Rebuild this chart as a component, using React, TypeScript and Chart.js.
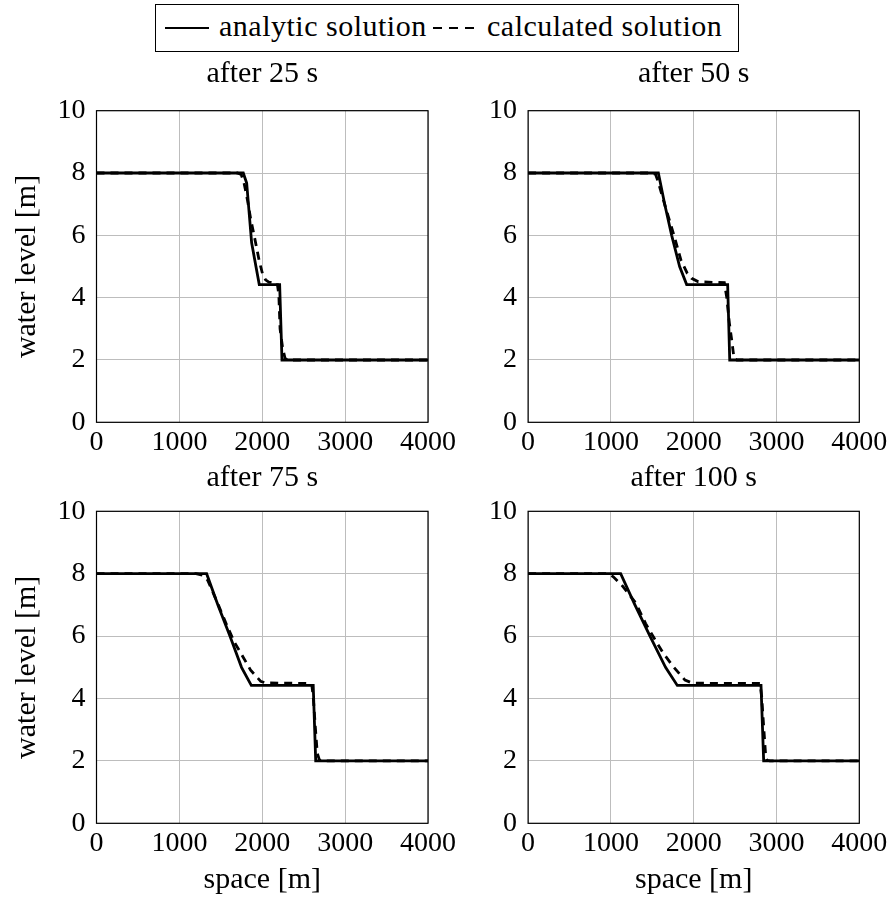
import React, { useEffect, useRef } from "react";
import { Chart, registerables } from "chart.js";

Chart.register(...registerables);

const FONT = '"Liberation Serif", "Times New Roman", serif';

// ---- data (x = space [m], y = water level [m]) ----
const titles = ["after 25 s", "after 50 s", "after 75 s", "after 100 s"];
const legendLabels = ["analytic solution", "calculated solution"];
const xTitle = "space [m]";
const yTitle = "water level [m]";
const xMin = 0, xMax = 4000, xStep = 1000;
const yMin = 0, yMax = 10, yStep = 2;

const analytic25: [number, number][] = [[0, 8], [1771, 8], [1812, 7.68], [1872, 5.76], [1924, 5], [1964, 4.42], [2210, 4.42], [2238, 2], [4000, 2]];
const calculated25: [number, number][] = [[0, 8], [1700, 8], [1745, 7.95], [1775, 7.75], [1822, 7.13], [1862, 6.5], [1902, 6], [1962, 5.2], [2002, 4.78], [2040, 4.57], [2080, 4.5], [2180, 4.47], [2200, 4.1], [2215, 3], [2245, 2.4], [2275, 2.05], [2310, 2], [4000, 2]];

const analytic50: [number, number][] = [[0, 8], [1573, 8], [1650, 7], [1734, 6], [1830, 5], [1915, 4.42], [2410, 4.42], [2435, 2], [4000, 2]];
const calculated50: [number, number][] = [[0, 8], [1500, 8], [1540, 7.95], [1573, 7.7], [1665, 6.85], [1762, 6], [1847, 5.2], [1923, 4.78], [1975, 4.62], [2056, 4.51], [2370, 4.48], [2398, 4.03], [2430, 3.2], [2459, 2.64], [2487, 2.05], [2520, 2], [4000, 2]];

const analytic75: [number, number][] = [[0, 8], [1329, 8], [1465, 7], [1610, 6], [1750, 5], [1868, 4.42], [2615, 4.42], [2645, 2], [4000, 2]];
const calculated75: [number, number][] = [[0, 8], [1200, 8], [1280, 7.95], [1340, 7.8], [1470, 7.0], [1580, 6.3], [1667, 5.79], [1755, 5.39], [1860, 4.91], [1981, 4.55], [2040, 4.5], [2596, 4.48], [2615, 4.06], [2640, 3.1], [2664, 2.24], [2690, 2.03], [2720, 2], [4000, 2]];

const analytic100: [number, number][] = [[0, 8], [1118, 8], [1290, 7], [1472, 6], [1660, 5], [1802, 4.42], [2813, 4.42], [2845, 2], [4000, 2]];
const calculated100: [number, number][] = [[0, 8], [970, 8], [1029, 7.9], [1130, 7.64], [1303, 7.05], [1420, 6.4], [1536, 5.87], [1633, 5.45], [1754, 5.02], [1895, 4.59], [1960, 4.52], [2016, 4.49], [2801, 4.48], [2821, 4.06], [2845, 3.1], [2870, 2.13], [2885, 2.02], [2920, 2], [4000, 2]];

const analyticSets = [analytic25, analytic50, analytic75, analytic100];
const calculatedSets = [calculated25, calculated50, calculated75, calculated100];

// ---- layout ----
const LINE_W = 2.8;
const DASH = [8, 6];

const framePlugin = {
  id: "frame",
  afterDatasetsDraw(chart: any) {
    const { ctx, chartArea } = chart;
    const { left, top, right, bottom } = chartArea;
    ctx.save();
    ctx.strokeStyle = "#000";
    ctx.lineWidth = 1.2;
    ctx.strokeRect(left, top, right - left, bottom - top);
    ctx.restore();
  },
};

type PanelSpec = {
  left: number; top: number; width: number; height: number;
  yWidth: number; padRight: number; areaTop: number; areaBottom: number;
  titlePadTop: number; showY: boolean; showX: boolean; idx: number;
};

const TITLE_FS = 30;
const TITLE_LH = TITLE_FS * 1.2;

function Panel(p: PanelSpec) {
  const ref = useRef<HTMLCanvasElement | null>(null);
  useEffect(() => {
    if (!ref.current) return;
    const toPts = (a: [number, number][]) => a.map(([x, y]) => ({ x, y }));
    const titlePadBottom = p.areaTop - p.titlePadTop - TITLE_LH;
    const xHeight = p.height - p.areaBottom;
    const chart = new Chart(ref.current, {
      type: "line",
      data: {
        datasets: [
          {
            label: legendLabels[0],
            data: toPts(analyticSets[p.idx]),
            borderColor: "#000",
            borderWidth: LINE_W,
            pointRadius: 0,
            tension: 0,
            fill: false,
          },
          {
            label: legendLabels[1],
            data: toPts(calculatedSets[p.idx]),
            borderColor: "#000",
            borderWidth: LINE_W,
            borderDash: DASH,
            pointRadius: 0,
            tension: 0,
            fill: false,
          },
        ],
      },
      options: {
        responsive: false,
        animation: false,
        layout: { padding: { left: 0, top: 0, right: p.padRight, bottom: 0 } },
        plugins: {
          legend: { display: false },
          tooltip: { enabled: false },
          title: {
            display: true,
            text: titles[p.idx],
            color: "#000",
            fullSize: false,
            font: { family: FONT, size: TITLE_FS, weight: "normal", lineHeight: 1.2 },
            padding: { top: p.titlePadTop, bottom: titlePadBottom },
          },
        },
        scales: {
          x: {
            type: "linear",
            min: xMin,
            max: xMax,
            afterFit: (s: any) => { s.height = xHeight; },
            ticks: {
              stepSize: xStep,
              color: "#000",
              padding: 3.4,
              maxRotation: 0,
              callback: (v: any) => String(v),
              font: { family: FONT, size: 28, lineHeight: 1.2 },
            },
            grid: { color: "#bdbdbd", lineWidth: 1, drawTicks: false },
            border: { display: false },
            title: {
              display: p.showX,
              text: xTitle,
              color: "#000",
              font: { family: FONT, size: TITLE_FS, lineHeight: 1.2 },
              padding: { top: 0, bottom: 8 },
            },
          },
          y: {
            type: "linear",
            min: yMin,
            max: yMax,
            afterFit: (s: any) => { s.width = p.yWidth; },
            ticks: {
              stepSize: yStep,
              color: "#000",
              padding: 11,
              callback: (v: any) => String(v),
              font: { family: FONT, size: 28, lineHeight: 1.2 },
            },
            grid: { color: "#bdbdbd", lineWidth: 1, drawTicks: false },
            border: { display: false },
            title: {
              display: p.showY,
              text: yTitle,
              color: "#000",
              font: { family: FONT, size: TITLE_FS, lineHeight: 1.2 },
              padding: { top: 9.5, bottom: 0 },
            },
          },
        },
      },
      plugins: [framePlugin],
    } as any);
    return () => chart.destroy();
  }, []);
  return (
    <canvas
      ref={ref}
      width={p.width}
      height={p.height}
      style={{ position: "absolute", left: p.left, top: p.top, width: p.width, height: p.height }}
    />
  );
}

const panels: PanelSpec[] = [
  { idx: 0, left: 0, top: 50, width: 470, height: 415, yWidth: 96.5, padRight: 42, areaTop: 60.7, areaBottom: 372.3, titlePadTop: 6.5, showY: true, showX: false },
  { idx: 1, left: 470, top: 50, width: 424, height: 415, yWidth: 58.1, padRight: 34.7, areaTop: 60.7, areaBottom: 372.3, titlePadTop: 6.5, showY: false, showX: false },
  { idx: 2, left: 0, top: 440, width: 470, height: 466, yWidth: 96.5, padRight: 42, areaTop: 71.3, areaBottom: 383.3, titlePadTop: 20.5, showY: true, showX: true },
  { idx: 3, left: 470, top: 440, width: 424, height: 466, yWidth: 58.1, padRight: 34.7, areaTop: 71.3, areaBottom: 383.3, titlePadTop: 20.5, showY: false, showX: true },
];

function Legend() {
  const textStyle: React.CSSProperties = {
    position: "absolute",
    top: 2.6,
    fontFamily: FONT,
    fontSize: 30,
    lineHeight: "36px",
    letterSpacing: "0.5px",
    whiteSpace: "nowrap",
    color: "#000",
  };
  const dash = (l: number) => (
    <div key={l} style={{ position: "absolute", left: l, top: 21.5, width: 9, height: 2.8, background: "#000" }} />
  );
  return (
    <div
      style={{
        position: "absolute",
        left: 155,
        top: 4,
        width: 584,
        height: 48,
        border: "1.3px solid #000",
        boxSizing: "border-box",
        background: "#fff",
      }}
    >
      <div style={{ position: "absolute", left: 9, top: 21.5, width: 44, height: 2.8, background: "#000" }} />
      <span style={{ ...textStyle, left: 63 }}>{legendLabels[0]}</span>
      {[277, 293, 309].map(dash)}
      <span style={{ ...textStyle, left: 331 }}>{legendLabels[1]}</span>
    </div>
  );
}

export default function App() {
  return (
    <div style={{ position: "absolute", left: 0, top: 0, width: 894, height: 906, background: "#fff" }}>
      {panels.map((p) => (
        <Panel key={p.idx} {...p} />
      ))}
      <Legend />
    </div>
  );
}
